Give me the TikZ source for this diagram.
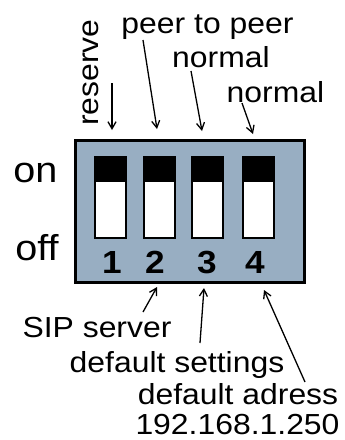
\documentclass[tikz,border=0pt]{standalone}
\usepackage{fontspec}
\setmainfont{Liberation Sans}[FakeStretch=1.1]
\usetikzlibrary{arrows.meta, positioning}

\definecolor{switchblue}{RGB}{152,174,194}

\tikzset{
  lbl/.style={inner sep=0pt, anchor=base, font=\fontsize{29}{34}\selectfont},
  onoff/.style={inner sep=0pt, anchor=base, font=\fontsize{36}{40}\selectfont},
  num/.style={inner sep=0pt, anchor=base, font=\fontsize{32}{36}\selectfont\bfseries},
  body/.style={draw, line width=3pt, fill=switchblue, minimum width=229pt, minimum height=142pt},
  switch/.style={draw, line width=2.5pt, fill=white, minimum width=31pt, minimum height=80pt, inner sep=0pt},
  knob/.style={fill=black, minimum width=33.5pt, minimum height=26pt, inner sep=0pt},
  pointer/.style={line width=1.3pt, -{Straight Barb[length=7pt,width=8pt]}}
}

\begin{document}
\begin{tikzpicture}[x=1pt, y=-1pt]
  \useasboundingbox (0,0) rectangle (345,440);

  % housing and sliders
  \node[body] (body) at (189.5,211) {};
  \foreach \i/\x in {1/110.5, 2/159.5, 3/207.5, 4/258.5}{
    \node[switch] (s\i) at (\x,198) {};
    \node[knob, anchor=north] (k\i) at ([yshift=1.25pt]s\i.north) {};
  }

  \node[num] (n1) at (112,273) {1};
  \node[num] (n2) at (155,273) {2};
  \node[num] (n3) at (207,273) {3};
  \node[num] (n4) at (255,273) {4};

  \node[onoff] (on) at (35.5,182) {on};
  \node[onoff] (off) at (37,260) {off};

  % top labels
  \node[lbl, rotate=90] (reserve) at (98,72.5) {reserve};
  \node[lbl] (peer) at (207.5,33) {peer to peer};
  \node[lbl] (normA) at (221,67) {normal};
  \node[lbl] (normB) at (275.5,102) {normal};

  % bottom labels
  \node[lbl] (sip) at (97,337) {SIP server};
  \node[lbl] (defset) at (177,372) {default settings};
  \node[lbl] (defadr) at (238,404) {default adress};
  \node[lbl] (ip) at (237.5,434) {192.168.1.250};

  % arrow ends
  \coordinate (reserveT) at (112,83);  \coordinate (reserveH) at (112,130);
  \coordinate (peerT) at (143,40);     \coordinate (peerH) at (157,129);
  \coordinate (normAT) at (191,71);    \coordinate (normAH) at (202,131);
  \coordinate (normBT) at (242,103);   \coordinate (normBH) at (253,134);
  \coordinate (sipT) at (143,312);     \coordinate (sipH) at (157,287);
  \coordinate (defsetT) at (200,343);  \coordinate (defsetH) at (204,288);
  \coordinate (defadrT) at (305,382);  \coordinate (defadrH) at (264,290);

  \foreach \a in {reserve, peer, normA, normB, sip, defset, defadr}
    \draw[pointer] (\a T) -- (\a H);
\end{tikzpicture}
\end{document}
